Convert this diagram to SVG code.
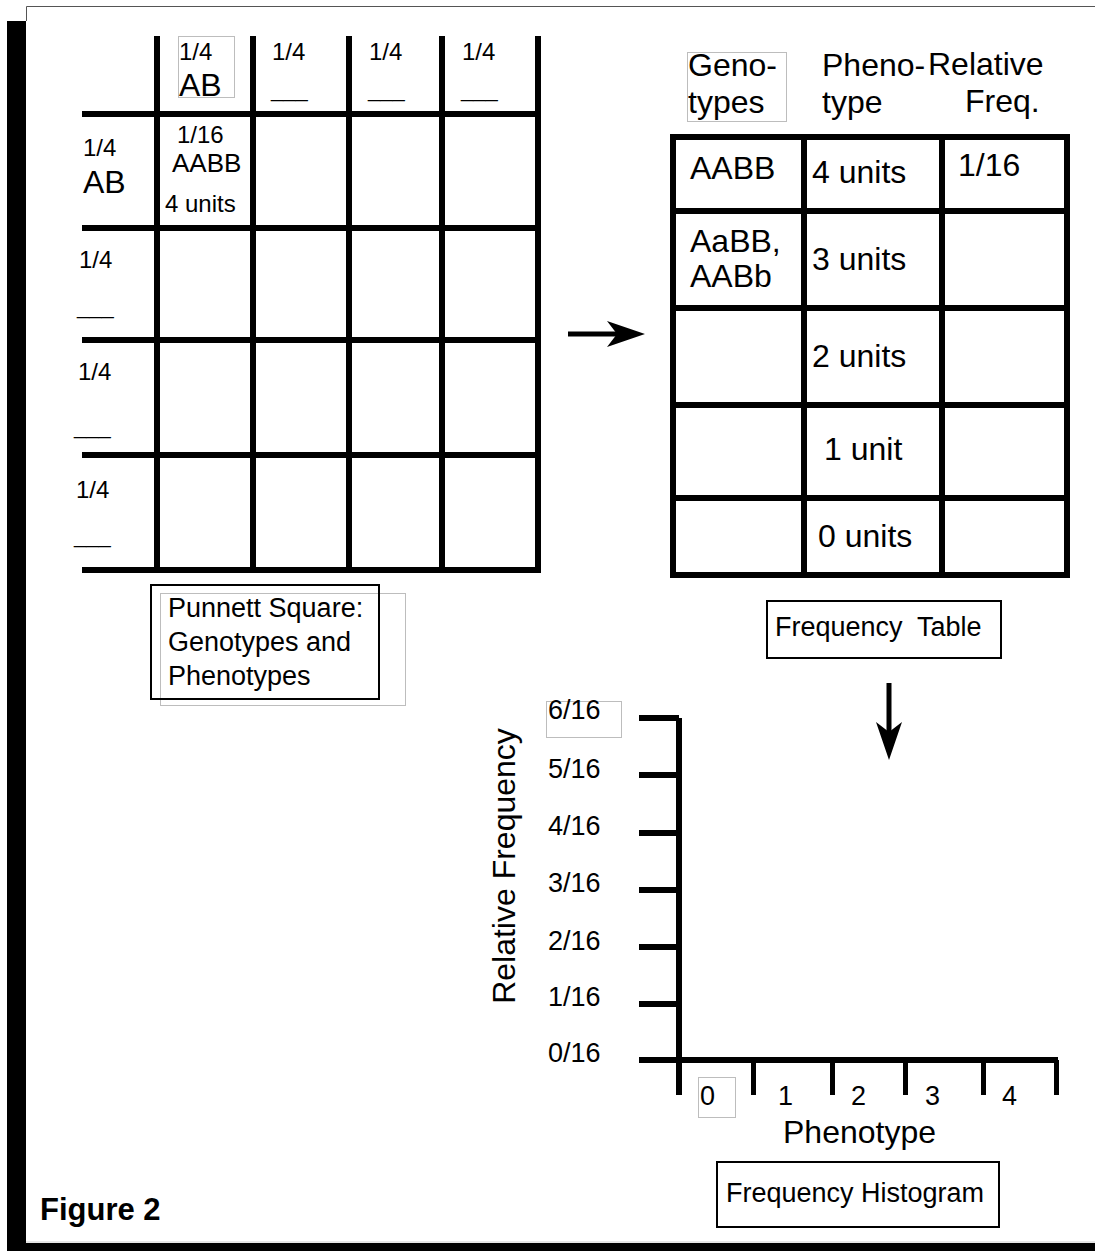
<svg xmlns="http://www.w3.org/2000/svg" width="1095" height="1251" viewBox="0 0 1095 1251">
<style>
text{font-family:"Liberation Sans",Arial,sans-serif;fill:#000}
.g{stroke:#000;stroke-width:6;fill:none}
.t{stroke:#000;stroke-width:5;fill:none}
.gb{stroke:#bdbdbd;stroke-width:1;fill:none}
.bx{stroke:#000;stroke-width:2;fill:#fff}
.s24{font-size:24px}.s26{font-size:26px}.s27{font-size:27px}.s32{font-size:32px}.u{font-size:22px}
</style>
<defs>
<marker id="ah" viewBox="0 0 38 26" refX="10" refY="13" markerWidth="38" markerHeight="26" markerUnits="userSpaceOnUse" orient="auto">
<path d="M0,0 L38,13 L0,26 L10,13 z" fill="#000"/>
</marker>
</defs>
<rect width="1095" height="1251" fill="#fff"/>
<g id="frame">
<rect x="7" y="21" width="19" height="1230" fill="#000"/>
<rect x="7" y="1243" width="1088" height="8" fill="#000"/>
<path d="M26.5,21 V6.5 H1095" stroke="#555" stroke-width="1" fill="none"/>
<path d="M26,1242 H1095" stroke="#ccc" stroke-width="1" fill="none"/>
</g>
<g id="punnett">
<path class="g" d="M157,36V573 M253,36V573 M349,36V573 M442,36V573 M538,36V573 M82,114H541 M82,228H541 M82,340H541 M82,455H541 M82,570H541"/>
<rect class="gb" x="178.5" y="36.5" width="56" height="61"/>
<text class="s24" x="179" y="60">1/4</text>
<text class="s32" x="179" y="96">AB</text>
<text class="s24" x="272" y="60">1/4</text>
<text class="u" x="271" y="97">___</text>
<text class="s24" x="369" y="60">1/4</text>
<text class="u" x="368" y="97">___</text>
<text class="s24" x="462" y="60">1/4</text>
<text class="u" x="461" y="97">___</text>
<text class="s24" x="83" y="156">1/4</text>
<text class="s32" x="83" y="193">AB</text>
<text class="s24" x="79" y="268">1/4</text>
<text class="u" x="77" y="314">___</text>
<text class="s24" x="78" y="380">1/4</text>
<text class="u" x="74" y="434">___</text>
<text class="s24" x="76" y="498">1/4</text>
<text class="u" x="74" y="543">___</text>
<text class="s24" x="177" y="143">1/16</text>
<text class="s26" x="172" y="172">AABB</text>
<text class="s24" x="165" y="212">4 units</text>
</g>
<g id="punnett-label">
<rect class="gb" x="160.5" y="593.5" width="245" height="112"/>
<rect class="bx" x="151" y="585" width="228" height="114" fill="none" style="fill:none"/>
<text class="s27" x="168" y="617">Punnett Square:</text>
<text class="s27" x="168" y="651">Genotypes and</text>
<text class="s27" x="168" y="685">Phenotypes</text>
</g>
<g id="freq-table">
<rect class="gb" x="687.5" y="52.5" width="99" height="69"/>
<text class="s32" x="688" y="76">Geno-</text>
<text class="s32" x="688" y="113">types</text>
<text class="s32" x="822" y="76">Pheno-</text>
<text class="s32" x="822" y="113">type</text>
<text class="s32" x="928" y="75">Relative</text>
<text class="s32" x="965" y="112">Freq.</text>
<path class="g" d="M673,137V578 M804,137V578 M942,137V578 M1067,137V578 M670,137H1070 M670,211H1070 M670,308H1070 M670,405H1070 M670,498H1070 M670,575H1070"/>
<text class="s32" x="690" y="179">AABB</text>
<text class="s32" x="812" y="183">4 units</text>
<text class="s32" x="958" y="176">1/16</text>
<text class="s32" x="690" y="252">AaBB,</text>
<text class="s32" x="690" y="287">AABb</text>
<text class="s32" x="812" y="270">3 units</text>
<text class="s32" x="812" y="367">2 units</text>
<text class="s32" x="824" y="460">1 unit</text>
<text class="s32" x="818" y="547">0 units</text>
</g>
<g id="freq-table-label">
<rect class="bx" x="767" y="601" width="234" height="57"/>
<text class="s27" x="775" y="636" xml:space="preserve">Frequency  Table</text>
</g>
<g id="histogram">
<path class="g" d="M679,718V1095 M639,1060H1058 M639,718H679 M639,775H679 M639,833H679 M639,890H679 M639,947H679 M639,1004H679"/>
<path class="t" d="M753.5,1060V1095 M832.5,1060V1095 M905.5,1060V1095 M983.5,1060V1095 M1056.5,1060V1095"/>
<rect class="gb" x="546.5" y="701.5" width="75" height="36"/>
<text class="s27" x="548" y="719">6/16</text>
<text class="s27" x="548" y="778">5/16</text>
<text class="s27" x="548" y="835">4/16</text>
<text class="s27" x="548" y="892">3/16</text>
<text class="s27" x="548" y="950">2/16</text>
<text class="s27" x="548" y="1006">1/16</text>
<text class="s27" x="548" y="1062">0/16</text>
<text class="s32" transform="translate(515,866) rotate(-90)" text-anchor="middle">Relative Frequency</text>
<rect class="gb" x="698.5" y="1077.5" width="37" height="40"/>
<text class="s27" x="700" y="1105">0</text>
<text class="s27" x="778" y="1105">1</text>
<text class="s27" x="851" y="1105">2</text>
<text class="s27" x="925" y="1105">3</text>
<text class="s27" x="1002" y="1105">4</text>
<text class="s32" x="783" y="1143">Phenotype</text>
</g>
<g id="histogram-label">
<rect class="bx" x="717" y="1162" width="282" height="65"/>
<text class="s27" x="726" y="1202">Frequency Histogram</text>
</g>
<g id="figure-title">
<text x="40" y="1220" style="font-size:31px;font-weight:bold">Figure 2</text>
</g>
<g id="connectors">
<path class="t" d="M568,334H617" marker-end="url(#ah)"/>
<path class="t" d="M889,683V732" marker-end="url(#ah)"/>
</g>
</svg>
